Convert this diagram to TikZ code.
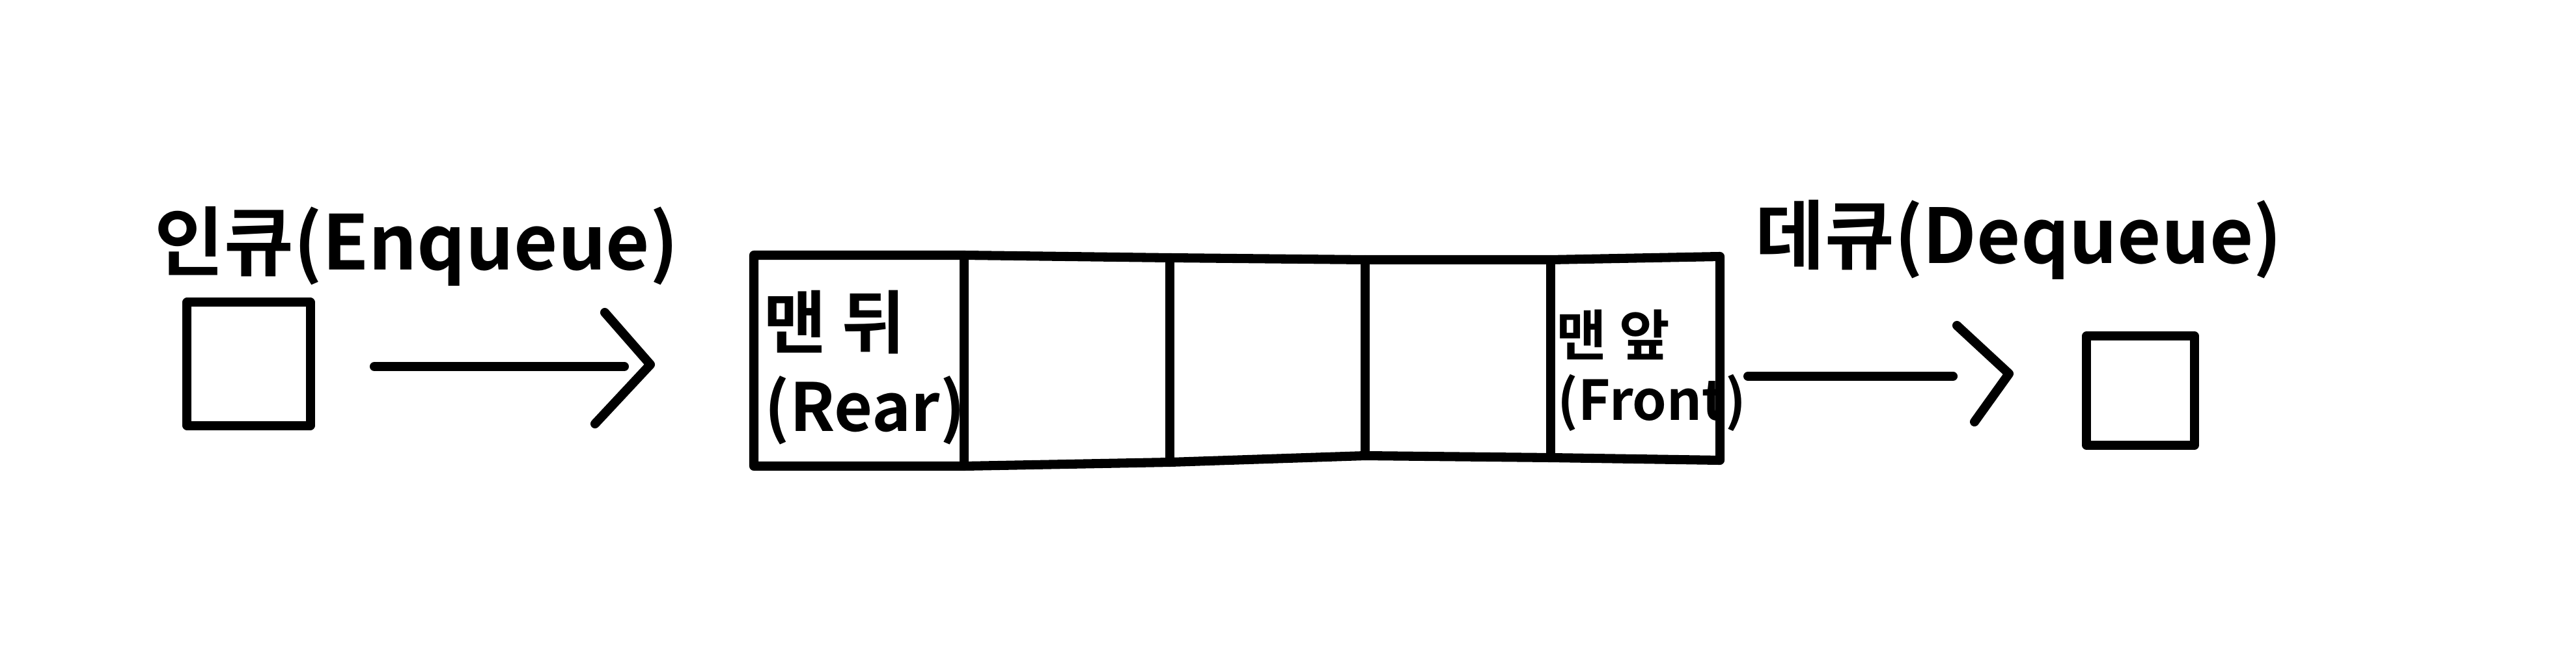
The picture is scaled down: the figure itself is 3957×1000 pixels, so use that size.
\documentclass[tikz,border=0pt]{standalone}
\usepackage{fontspec}
\setmainfont{Noto Sans CJK KR}[BoldFont={Noto Sans CJK KR Bold}]
\begin{document}
\begin{tikzpicture}[x=0.01cm,y=-0.01cm,
  ink/.style={line width=4pt,line cap=round,line join=round,black},
  cell/.style={draw,line width=4pt,line join=round,minimum width=1.89cm,minimum height=1.89cm,inner sep=0pt},
  lbl/.style={inner sep=0pt,text=black}]
\useasboundingbox[fill=white] (0,0) rectangle (3957,1000);
% squares
\node[cell] (inbox) at (382,559) {};
\node[cell,minimum width=1.66cm,minimum height=1.67cm] (outbox) at (3288,600) {};
% titles
\node[lbl,font=\fontsize{33}{38}\bfseries] (enq) at (640,378) {인큐(Enqueue)};
\node[lbl,font=\fontsize{33}{38}\bfseries] (deq) at (3101,368) {데큐(Dequeue)};
% queue outline
\coordinate (t0) at (1158,392); \coordinate (t1) at (1481,392);
\coordinate (t2) at (1797,396); \coordinate (t3) at (2097,399);
\coordinate (t4) at (2382,399); \coordinate (t5) at (2642,394);
\coordinate (b0) at (1158,716); \coordinate (b1) at (1481,716);
\coordinate (b2) at (1797,710); \coordinate (b3) at (2097,700);
\coordinate (b4) at (2382,703); \coordinate (b5) at (2642,707);
\draw[ink] (t0) -- (t1) -- (t2) -- (t3) -- (t4) -- (t5) -- (b5) -- (b4) -- (b3) -- (b2) -- (b1) -- (b0) -- cycle;
\draw[ink] (t1) -- (b1) (t2) -- (b2) (t3) -- (b3) (t4) -- (b4);
% cell labels
\node[lbl,font=\fontsize{30}{35}\bfseries,anchor=west] (rear1) at (1172,495) {맨 뒤};
\node[lbl,font=\fontsize{29}{34}\bfseries,anchor=west] (rear2) at (1174,630) {(Rear)};
\node[lbl,font=\fontsize{24}{28}\bfseries,anchor=west] (front1) at (2390,514) {맨 앞};
\node[lbl,font=\fontsize{24}{28}\bfseries,anchor=west] (front2) at (2392,619) {(Front)};
% enqueue arrow
\coordinate (a1s) at (575,563); \coordinate (a1e) at (959,563);
\coordinate (h1a) at (929,480); \coordinate (h1b) at (999,560); \coordinate (h1c) at (914,651);
\draw[ink] (a1s) -- (a1e);
\draw[ink] (h1a) -- (h1b) -- (h1c);
% dequeue arrow
\coordinate (a2s) at (2685,578); \coordinate (a2e) at (3000,578);
\coordinate (h2a) at (3006,500); \coordinate (h2b) at (3086,574); \coordinate (h2c) at (3033,648);
\draw[ink] (a2s) -- (a2e);
\draw[ink] (h2a) -- (h2b) -- (h2c);
\end{tikzpicture}
\end{document}
